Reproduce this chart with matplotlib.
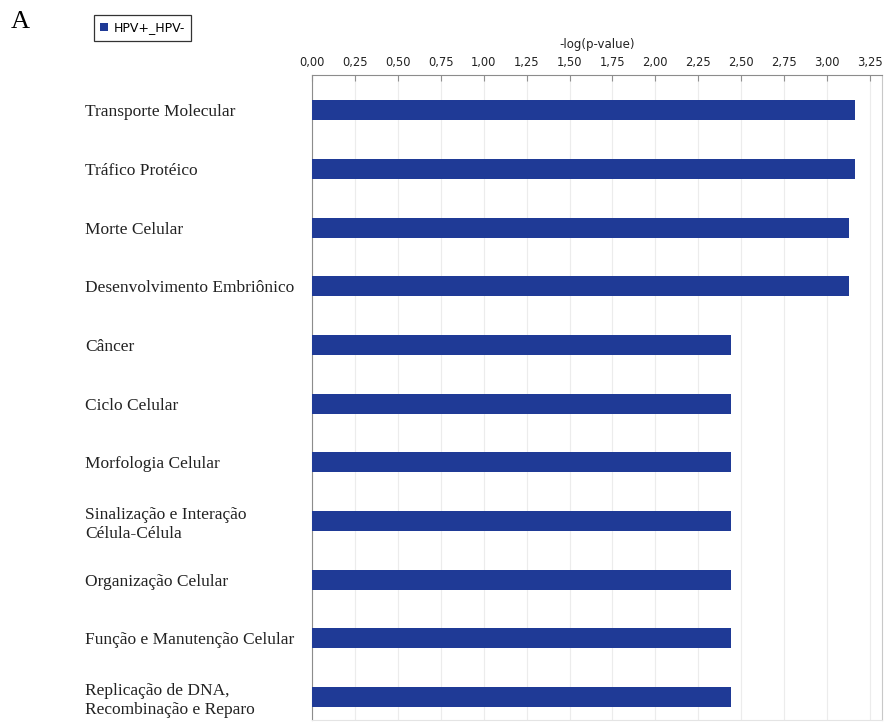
import numpy as np
import matplotlib
matplotlib.use("Agg")
import matplotlib.pyplot as plt
from matplotlib.ticker import FuncFormatter
from matplotlib.patches import Patch

# categorias funcionais e -log(p-value)
categorias = [
    "Transporte Molecular",
    "Tráfico Protéico",
    "Morte Celular",
    "Desenvolvimento Embriônico",
    "Câncer",
    "Ciclo Celular",
    "Morfologia Celular",
    "Sinalização e Interação\nCélula-Célula",
    "Organização Celular",
    "Função e Manutenção Celular",
    "Replicação de DNA,\nRecombinação e Reparo",
]
valores = [3.16, 3.16, 3.125, 3.125, 2.44, 2.44, 2.44, 2.44, 2.44, 2.44, 2.44]
ticks_x = [0, 0.25, 0.5, 0.75, 1.0, 1.25, 1.5, 1.75, 2.0, 2.25, 2.5, 2.75, 3.0, 3.25]
serie = "HPV+_HPV-"

cor_barra = "#1f3a96"

fig = plt.figure(figsize=(8.93, 7.25), dpi=100)
W, H = 893, 725
ax = fig.add_axes([312 / W, 1 - 720 / H, (882 - 312) / W, (720 - 75) / H])

y = np.arange(len(categorias))
ax.barh(y, valores, height=0.34, color=cor_barra, zorder=3)

ax.set_xlim(0, 3.32)
ax.set_ylim(len(categorias) - 1 + 0.39, -0.6)

# eixo x no topo, formato com virgula
ax.xaxis.tick_top()
ax.xaxis.set_label_position("top")
ax.set_xticks(ticks_x)
ax.xaxis.set_major_formatter(FuncFormatter(lambda v, p: f"{v:.2f}".replace(".", ",")))
ax.tick_params(axis="x", direction="in", length=4, width=0.8, color="#909090",
               labelsize=8.3, pad=4, labelcolor="#222222")
ax.set_xlabel("-log(p-value)", fontsize=8.5, color="#222222", labelpad=6)
ax.grid(axis="x", color="#ececec", linewidth=0.8, zorder=0)

ax.set_yticks(y)
ax.set_yticklabels(categorias, fontfamily="Liberation Serif", fontsize=12.5,
                   color="#222222", linespacing=1.25)
ax.tick_params(axis="y", length=0, pad=(312 - 85) * 72 / 100)
for lbl in ax.get_yticklabels():
    lbl.set_horizontalalignment("left")
    lbl.set_multialignment("left")

ax.spines["top"].set_color("#8c8c8c")
ax.spines["left"].set_color("#8c8c8c")
ax.spines["right"].set_color("#c8c8c8")
ax.spines["bottom"].set_color("#e4e4e4")
for s in ax.spines.values():
    s.set_linewidth(0.8)

leg = fig.legend(handles=[Patch(facecolor=cor_barra, label=serie)],
                 loc="upper left", bbox_to_anchor=(94 / W, 1 - 15 / H),
                 fontsize=9, frameon=True, fancybox=False, handlelength=0.6,
                 handleheight=0.6, handletextpad=0.45, borderpad=0.5,
                 borderaxespad=0)
leg.get_frame().set_edgecolor("black")
leg.get_frame().set_linewidth(0.9)

fig.text(20.5 / W, 1 - 22 / H, "A", fontfamily="Liberation Serif", fontsize=19,
         va="center", ha="center")

fig.savefig("out.png", dpi=100, facecolor="white")
